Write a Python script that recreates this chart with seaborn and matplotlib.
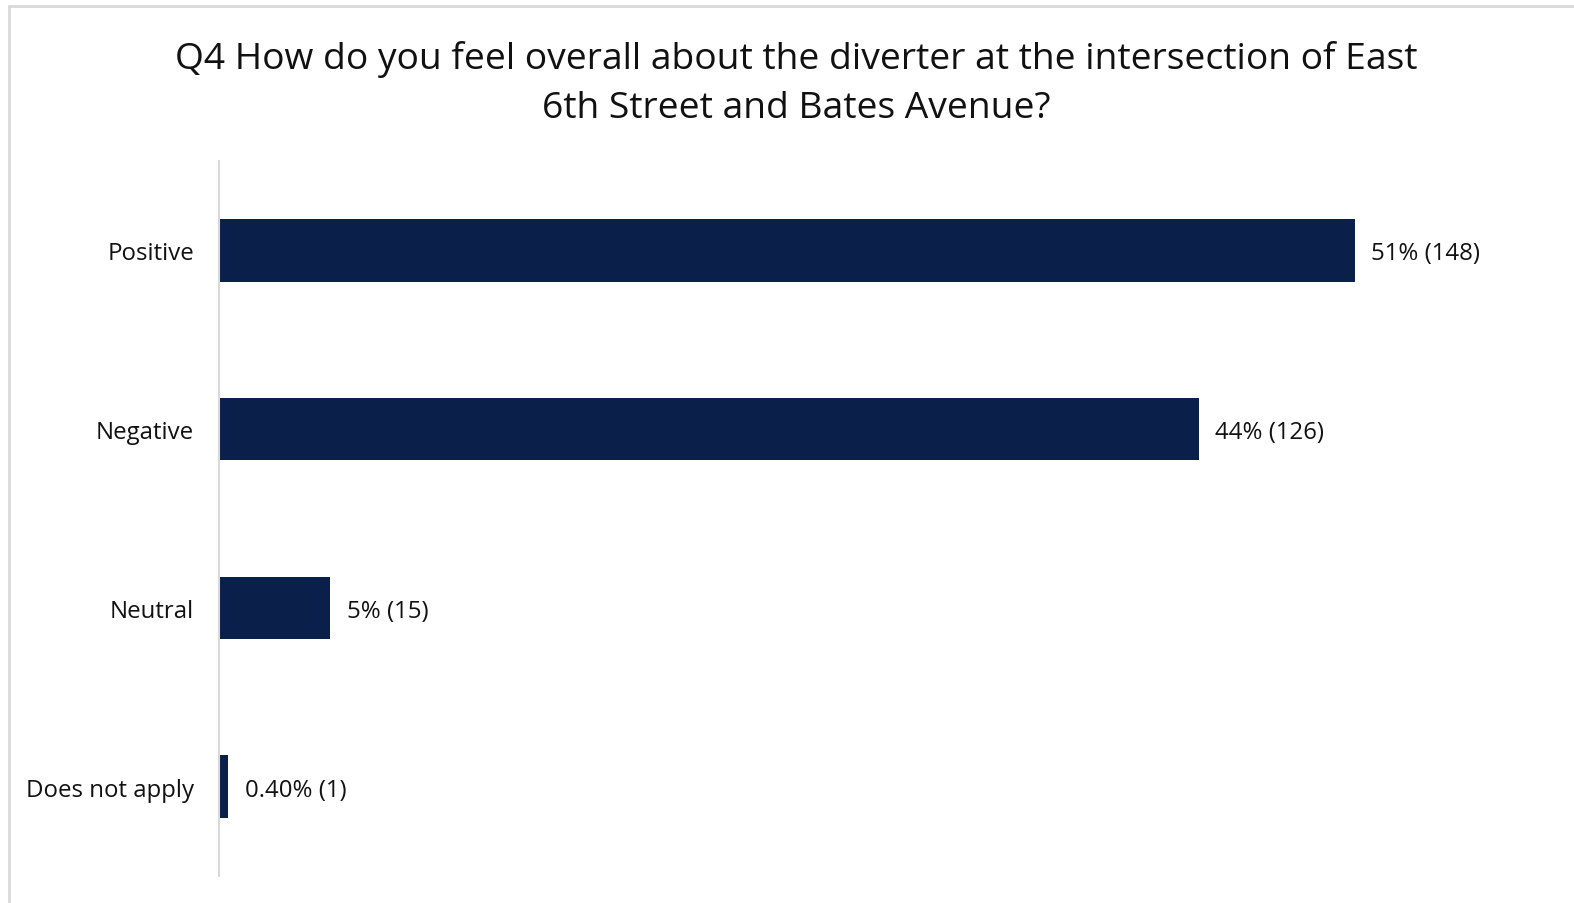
import matplotlib
matplotlib.use("Agg")
import matplotlib.pyplot as plt
import seaborn as sns
import pandas as pd
from matplotlib.lines import Line2D

categories = ["Positive", "Negative", "Neutral", "Does not apply"]
percents = [51, 44, 5, 0.4]
counts = [148, 126, 15, 1]
labels = ["51% (148)", "44% (126)", "5% (15)", "0.40% (1)"]
title = "Q4 How do you feel overall about the diverter at the intersection of East\n6th Street and Bates Avenue?"

sns.set_theme(style="white")
plt.rcParams["font.family"] = ["Open Sans", "DejaVu Sans"]

df = pd.DataFrame({"category": categories, "percent": percents})

W, H = 1574, 904
fig = plt.figure(figsize=(W / 100, H / 100), dpi=100)
ax = fig.add_axes([219 / W, 1 - 877 / H, 1336 / W, 715 / H])

sns.barplot(data=df, x="percent", y="category", order=categories, color="#0a1f4a",
            saturation=1, width=0.35, orient="h", ax=ax, edgecolor="#0a1f4a", linewidth=0)

anns = ax.bar_label(ax.containers[0], labels=labels, padding=12, fontsize=17.3, color="#111111")
for a in anns:
    a.xyann = (12, -2.2)
ax.set_xlim(0, 60)
ax.set_ylim(3.5, -0.5)
ax.set_xlabel("")
ax.set_ylabel("")
ax.set_xticks([])
for s in ["top", "right", "bottom"]:
    ax.spines[s].set_visible(False)
ax.spines["left"].set_color("#d9d9d9")
ax.spines["left"].set_linewidth(1.5)
ax.tick_params(axis="y", length=0, pad=18, labelsize=17.3, labelcolor="#111111")

fig.text(796 / W, 1 - 84 / H, title, ha="center", va="center", fontsize=26.8,
         color="#111111", linespacing=1.48)

fig.add_artist(Line2D([9 / W, 9 / W], [0, 1 - 7 / H], transform=fig.transFigure,
                      color="#d9d9d9", linewidth=2))
fig.add_artist(Line2D([9 / W, 1], [1 - 7 / H, 1 - 7 / H], transform=fig.transFigure,
                      color="#d9d9d9", linewidth=2))

fig.savefig("out.png", dpi=100, facecolor="white")
